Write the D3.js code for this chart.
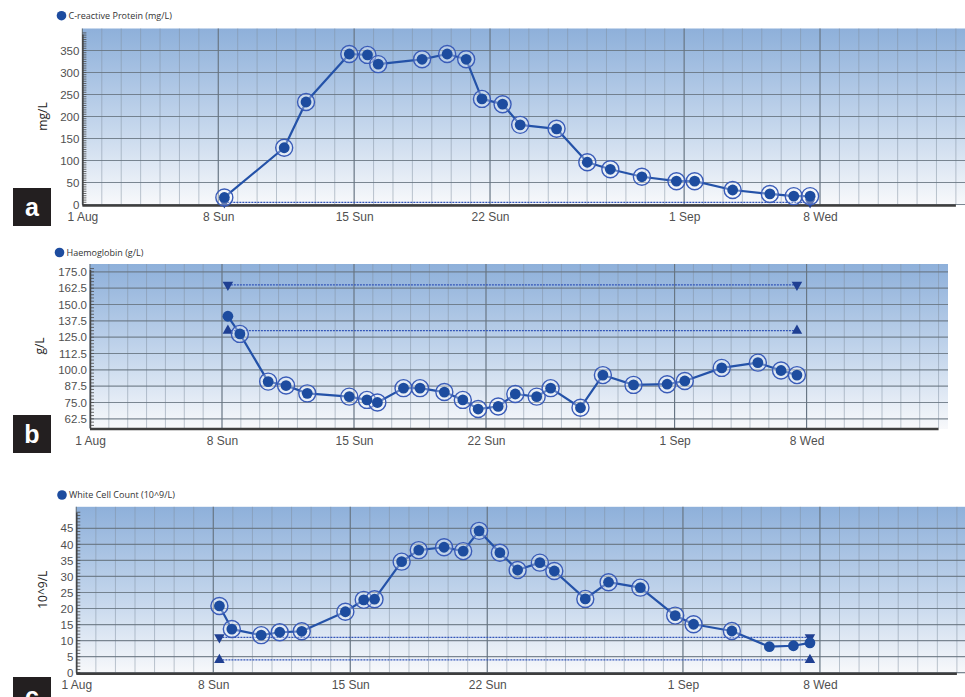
<!DOCTYPE html>
<html>
<head>
<meta charset="utf-8">
<script src="https://cdn.jsdelivr.net/npm/d3@7"></script>
<style>
  body { margin: 0; background: #fff; }
  svg { display: block; font-family: "Open Sans", "Noto Sans", sans-serif; }
</style>
</head>
<body>
<svg id="chart" width="965" height="697"></svg>
<script>
// sample collection times, shared by the three tests
const sampleTimes = [
    "2021-08-08 07:30", "2021-08-08 22:45", "2021-08-10 10:45", "2021-08-11 09:30",
    "2021-08-12 12:30", "2021-08-14 18:00", "2021-08-15 16:30", "2021-08-16 05:45",
    "2021-08-17 15:00", "2021-08-18 12:00", "2021-08-19 19:00", "2021-08-20 18:30",
    "2021-08-21 14:00", "2021-08-22 15:30", "2021-08-23 13:15", "2021-08-24 16:30",
    "2021-08-25 10:15", "2021-08-27 00:15", "2021-08-28 04:45", "2021-08-29 19:45",
    "2021-08-31 14:30", "2021-09-01 13:00", "2021-09-03 12:00", "2021-09-05 10:00",
    "2021-09-06 15:30", "2021-09-07 11:45"
];

// C-reactive protein (mg/L), null = not measured
const crpValues = [16, null, null, 129, 233, 342, 340, 319, null, 330, 342, 330, 240,
    228, 181, null, 172, 96, 80, 63, 53, 53, 33, 24, 19, 19];
// Haemoglobin (g/L)
const hbValues = [141, 127.5, 91, 88, 82, 79.5, 77, 75, 86, 86, 83, 77, 70, 72, 81.5,
    79.5, 86, 71, 96, 88.5, 89, 91.5, 101.5, 105.5, 99.5, 96];
// White cell count (10^9/L)
const wccValues = [20.8, 13.6, 11.7, 12.6, 12.9, 19, 22.7, 22.9, 34.6, 38.2, 39.1, 37.9,
    44.2, 37.4, 32, 34.3, 31.7, 23, 28.2, 26.5, 17.8, 15.1, 13, 8.1, 8.4, 9.3];

// points drawn without the outer ring
const crpPlain = [];
const hbPlain = [0];
const wccPlain = [23, 24, 25];

// reference limits [low, high]
const crpLimits = [null, 5];
const hbLimits = [130, 165];
const wccLimits = [4, 11];

const tickDates = ["2021-08-01", "2021-08-08", "2021-08-15", "2021-08-22", "2021-09-01", "2021-09-08"];
const tickLabels = ["1 Aug", "8 Sun", "15 Sun", "22 Sun", "1 Sep", "8 Wed"];

const crpTicks = d3.range(0, 351, 50);
const hbTicks = d3.range(62.5, 175.1, 12.5);
const wccTicks = d3.range(0, 46, 5);

const parseTime = d3.timeParse("%Y-%m-%d %H:%M");
const parseDay = d3.timeParse("%Y-%m-%d");
const times = sampleTimes.map(parseTime);
const xStart = parseDay("2021-08-01");
const xEnd = parseTime("2021-09-15 12:00");
const axisEnd = parseDay("2021-09-15");

const BLUE = "#2452a8";
const DOT = "#1d4c9f";

class LabPanel {
    constructor(svg, cfg) {
        this.svg = svg;
        this.cfg = cfg;
        this.x = d3.scaleTime().domain([xStart, xEnd]).range([cfg.left, cfg.right]);
        this.y = d3.scaleLinear().domain(cfg.yDomain).range([cfg.bottom, cfg.top]);
        this.g = svg.append("g");
        this.draw();
    }

    draw() {
        this.drawBackground();
        this.drawGrid();
        this.drawAxes();
        this.drawLimits();
        this.drawSeries();
        this.drawLegend();
        this.drawTag();
    }

    drawBackground() {
        const c = this.cfg;
        this.g.append("rect")
            .attr("x", c.left)
            .attr("y", c.top)
            .attr("width", c.right - c.left)
            .attr("height", c.bottom - c.top + 1)
            .attr("fill", "url(#plotGrad)");
    }

    drawGrid() {
        const c = this.cfg;
        const days = d3.timeDay.range(xStart, xEnd);
        const majors = tickDates.map(d => +parseDay(d));

        // daily minor lines
        this.g.append("g").selectAll("line")
            .data(days.filter(d => !majors.includes(+d)))
            .join("line")
            .attr("x1", d => this.x(d)).attr("x2", d => this.x(d))
            .attr("y1", c.top).attr("y2", c.bottom)
            .attr("stroke", "#7f8fa0").attr("stroke-opacity", 0.5)
            .attr("stroke-width", 1);

        this.g.append("g").selectAll("line")
            .data(majors.map(d => new Date(d)))
            .join("line")
            .attr("x1", d => this.x(d)).attr("x2", d => this.x(d))
            .attr("y1", c.top).attr("y2", c.bottom)
            .attr("stroke", "#687684").attr("stroke-width", 1.2);

        this.g.append("g").selectAll("line")
            .data(c.yTicks)
            .join("line")
            .attr("x1", c.left).attr("x2", c.right)
            .attr("y1", d => this.y(d)).attr("y2", d => this.y(d))
            .attr("stroke", "#66737f").attr("stroke-opacity", 0.85)
            .attr("stroke-width", 1.2);
    }

    drawAxes() {
        const c = this.cfg;

        // minor ruler ticks on the left axis
        const minor = d3.range(c.yDomain[0], c.yDomain[1], c.minorStep)
            .map(v => Math.ceil(v / c.minorStep) * c.minorStep)
            .filter(v => this.y(v) >= c.top + 4 && v >= c.yDomain[0]);
        this.g.append("g").selectAll("line")
            .data(minor)
            .join("line")
            .attr("x1", c.left).attr("x2", c.left + 4)
            .attr("y1", d => this.y(d)).attr("y2", d => this.y(d))
            .attr("stroke", "#4a4a4a").attr("stroke-width", 0.8);

        this.g.append("line")
            .attr("x1", c.left + 0.5).attr("x2", c.left + 0.5)
            .attr("y1", c.top + 6).attr("y2", c.bottom + 1)
            .attr("stroke", "#444").attr("stroke-width", 1.5);

        this.g.append("line")
            .attr("x1", c.left).attr("x2", this.x(axisEnd))
            .attr("y1", c.bottom + 1).attr("y2", c.bottom + 1)
            .attr("stroke", "#3e3e3e").attr("stroke-width", 2.6);

        const yAxis = d3.axisLeft(this.y)
            .tickValues(c.yTicks)
            .tickFormat(c.yFormat)
            .tickSize(0)
            .tickPadding(3);
        const ya = this.g.append("g")
            .attr("transform", `translate(${c.left},0)`)
            .call(yAxis);
        ya.select(".domain").remove();
        ya.selectAll("text")
            .attr("fill", "#505050")
            .style("font-size", "11.5px");

        const xAxis = d3.axisBottom(this.x)
            .tickValues(tickDates.map(parseDay))
            .tickFormat((d, i) => tickLabels[i])
            .tickSize(0)
            .tickPadding(7);
        const xa = this.g.append("g")
            .attr("transform", `translate(0,${c.bottom + 1})`)
            .call(xAxis);
        xa.select(".domain").remove();
        xa.selectAll("text")
            .attr("fill", "#505050")
            .style("font-size", "12px");

        this.g.append("text")
            .attr("transform", `translate(${c.titleX},${(c.top + c.bottom) / 2}) rotate(-90)`)
            .attr("text-anchor", "middle")
            .attr("dy", "0.35em")
            .attr("fill", "#222")
            .style("font-size", "12px")
            .text(c.yTitle);
    }

    drawLimits() {
        const c = this.cfg;
        const x0 = this.x(times[0]);
        const x1 = this.x(times[times.length - 1]);
        const tri = d3.symbol().type(d3.symbolTriangle).size(48);

        c.limits.forEach((v, i) => {
            if (v === null) return;
            const yy = this.y(v);
            this.g.append("line")
                .attr("x1", x0).attr("x2", x1)
                .attr("y1", yy).attr("y2", yy)
                .attr("stroke", "#3355b8").attr("stroke-width", 1.3)
                .attr("stroke-dasharray", "2,1");
            [x0, x1].forEach(xx => {
                this.g.append("path")
                    .attr("d", tri)
                    .attr("transform", `translate(${xx},${yy}) rotate(${i === 1 ? 180 : 0})`)
                    .attr("fill", "#1f3f92");
            });
        });
    }

    drawSeries() {
        const c = this.cfg;
        const pts = c.values
            .map((v, i) => ({ t: times[i], v: v, ring: !c.plain.includes(i) }))
            .filter(d => d.v !== null);

        const line = d3.line()
            .x(d => this.x(d.t))
            .y(d => this.y(d.v));

        this.g.append("path")
            .datum(pts)
            .attr("fill", "none")
            .attr("stroke", BLUE)
            .attr("stroke-width", 2.2)
            .attr("stroke-linejoin", "round")
            .attr("d", line);

        this.g.append("g").selectAll("circle")
            .data(pts.filter(d => d.ring))
            .join("circle")
            .attr("cx", d => this.x(d.t))
            .attr("cy", d => this.y(d.v))
            .attr("r", 8.5)
            .attr("fill", "#ffffff").attr("fill-opacity", 0.3)
            .attr("stroke", "#3a5cb8").attr("stroke-width", 1.4);

        this.g.append("g").selectAll("circle")
            .data(pts)
            .join("circle")
            .attr("cx", d => this.x(d.t))
            .attr("cy", d => this.y(d.v))
            .attr("r", 5.4)
            .attr("fill", DOT);
    }

    drawLegend() {
        const c = this.cfg;
        this.g.append("circle")
            .attr("cx", c.legend[0]).attr("cy", c.legend[1])
            .attr("r", 4.8)
            .attr("fill", DOT);
        this.g.append("text")
            .attr("x", c.legend[0] + 7)
            .attr("y", c.legend[1])
            .attr("dy", "0.35em")
            .attr("fill", "#333")
            .style("font-size", "9px")
            .text(c.label);
    }

    drawTag() {
        const c = this.cfg;
        this.g.append("rect")
            .attr("x", 13).attr("y", c.tagY)
            .attr("width", 38).attr("height", 38)
            .attr("fill", "#231f20");
        this.g.append("text")
            .attr("x", 32).attr("y", c.tagY + 28)
            .attr("text-anchor", "middle")
            .attr("fill", "#fff")
            .style("font-family", "Arial, 'Liberation Sans', sans-serif")
            .style("font-weight", "bold")
            .style("font-size", "25px")
            .text(c.tag);
    }
}

const svg = d3.select("#chart");

const defs = svg.append("defs");
const grad = defs.append("linearGradient")
    .attr("id", "plotGrad")
    .attr("x1", 0).attr("y1", 0).attr("x2", 0).attr("y2", 1);
grad.append("stop").attr("offset", "0%").attr("stop-color", "#8eb0da");
grad.append("stop").attr("offset", "55%").attr("stop-color", "#c4d6ec");
grad.append("stop").attr("offset", "100%").attr("stop-color", "#f8f9fb");

new LabPanel(svg, {
    left: 82.4, right: 965.6, top: 28.5, bottom: 204.5,
    yDomain: [0, 400], yTicks: crpTicks, yFormat: d3.format("d"), minorStep: 5,
    values: crpValues, plain: crpPlain, limits: crpLimits,
    yTitle: "mg/L", titleX: 43, label: "C-reactive Protein (mg/L)",
    legend: [61.5, 15.7], tag: "a", tagY: 188
});

new LabPanel(svg, {
    left: 90, right: 948, top: 264, bottom: 428,
    yDomain: [55.5, 181], yTicks: hbTicks, yFormat: d3.format(".1f"), minorStep: 2.5,
    values: hbValues, plain: hbPlain, limits: hbLimits,
    yTitle: "g/L", titleX: 40, label: "Haemoglobin (g/L)",
    legend: [59.5, 252.5], tag: "b", tagY: 415
});

new LabPanel(svg, {
    left: 76.3, right: 966.7, top: 506.8, bottom: 672.7,
    yDomain: [0, 51.7], yTicks: wccTicks, yFormat: d3.format("d"), minorStep: 1,
    values: wccValues, plain: wccPlain, limits: wccLimits,
    yTitle: "10^9/L", titleX: 43, label: "White Cell Count (10^9/L)",
    legend: [62, 495], tag: "c", tagY: 677
});
</script>
</body>
</html>
